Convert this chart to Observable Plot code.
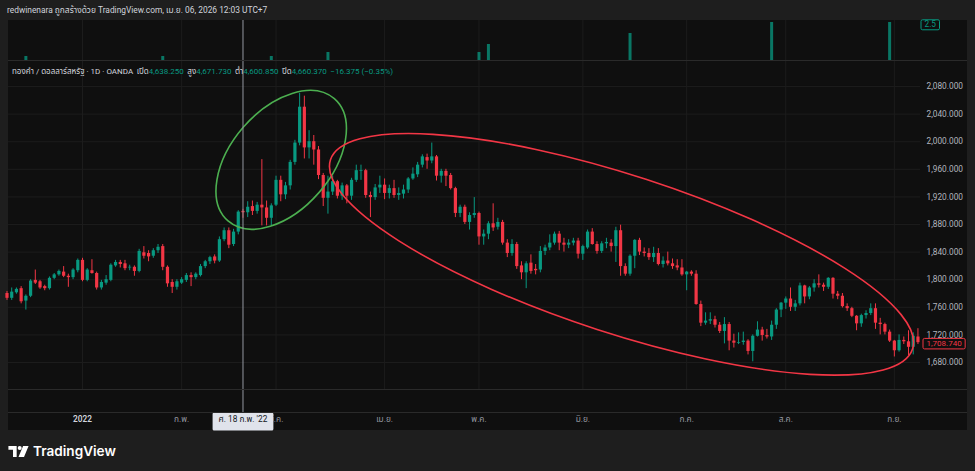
<!DOCTYPE html>
<html><head><meta charset="utf-8">
<script src="https://cdn.jsdelivr.net/npm/d3@7"></script>
<script src="https://cdn.jsdelivr.net/npm/@observablehq/plot@0.6"></script>
<style>
html,body{margin:0;padding:0;}
body{width:975px;height:471px;background:#1e1e1e;position:relative;overflow:hidden;font-family:Roboto,"Noto Sans","Noto Sans Thai",sans-serif;}
#frame{position:absolute;left:8px;top:20px;width:959px;height:410px;background:#0f0f0f;}
.sep{position:absolute;left:8px;width:959px;height:1px;background:#2a2a2a;}
#vol{position:absolute;left:0;top:20px;}
#price{position:absolute;left:0;top:60px;}
#hdr{position:absolute;left:7px;top:0;height:20px;line-height:20px;font-size:8.4px;color:#d1d4dc;white-space:nowrap;}
#legend{position:absolute;left:12px;top:65px;line-height:14px;font-size:8px;color:#d1d4dc;white-space:nowrap;}
#legend .v{color:#089981;}
#legend .g{margin-left:3.5px;}
#logo{position:absolute;left:8px;top:441px;height:20px;display:flex;align-items:center;gap:4px;color:#ffffff;font-size:13.6px;font-weight:600;font-family:Inter,Roboto,sans-serif;}
</style></head>
<body>
<div id="hdr">redwinenara ถูกสร้างด้วย TradingView.com, เม.ย. 06, 2026 12:03 UTC+7</div>
<div id="frame"></div>
<div id="vol"></div>
<div id="price"></div>
<div class="sep" style="top:60px"></div>
<div class="sep" style="top:389px"></div>
<div class="sep" style="top:412px"></div>
<div id="legend">ทองคำ / ดอลลาร์สหรัฐ · 1D · OANDA<span class="g">เปิด</span><span class="v">4,638.250</span><span class="g">สูง</span><span class="v">4,671.730</span><span class="g">ต่ำ</span><span class="v">4,600.850</span><span class="g">ปิด</span><span class="v">4,660.370</span><span class="g v">−16.375 (−0.35%)</span></div>
<div id="logo"><svg width="21" height="11" viewBox="0 0 22 12"><path d="M0 0H9V12H5V4H0Z" fill="#fff"/><circle cx="12.3" cy="2.2" r="2.2" fill="#fff"/><path d="M16 0H22L17 12H11Z" fill="#fff"/></svg><span>TradingView</span></div>
<script>
// ---- data (one entry per daily bar, Dec 2021 – Sep 2022) ----
const open = [1780,1773,1781,1787,1769,1776,1799,1797,1790,1787,1802,1807,1811,1805,1803,1813,
1828,1799,1813,1809,1788,1795,1799,1820,1825,1823,1817,1818,1812,
1839,1838,1834,1842,1848,1818,1796,1789,1795,1799,1806,1803,
1806,1819,1826,1833,1827,1858,1871,1851,1869,1899,1897,1906,1899,1908,1904,1889,
1908,1944,1923,1936,1970,1998,2050,1991,2000,1988,
1951,1918,1927,1942,1921,1936,1921,1944,1957,1958,1922,1919,1933,1937,1925,
1932,1922,1924,1930,1946,1952,1966,1977,1972,1978,1950,1957,1951,1932,1896,1905,1883,1893,
1896,1862,1866,1881,1876,1883,1853,1838,1851,1820,1810,1824,1815,
1814,1841,1846,1853,1866,1853,1850,1853,1856,1837,1846,1869,1851,1841,1852,1853,
1848,1871,1819,1808,1834,1857,1840,1838,1832,1838,1822,1827,1823,1820,1817,1807,1811,
1808,1764,1737,1740,1742,1734,1725,1735,1711,1708,1709,1711,1696,1718,1727,1719,1717,1734,1756,1766,
1772,1760,1765,1791,1775,1788,1794,1792,1789,1802,1779,1776,1761,1758,1747,1736,1748,1751,1758,1737,1735,1724,1711,1697,1712,1710,1702,1717];
const high = [1783,1788,1788,1790,1778,1800,1814,1799,1792,1804,1809,1814,1819,1808,1816,1830,
1831,1816,1829,1811,1799,1806,1823,1828,1828,1828,1821,1820,1844,
1848,1842,1845,1851,1851,1820,1800,1800,1803,1809,1810,1810,
1822,1828,1834,1836,1862,1875,1875,1873,1900,1902,1913,1914,1912,1974,1914,1910,
1950,1950,1941,1973,2002,2070,2066,2016,2009,1993,
1954,1950,1950,1944,1940,1938,1947,1966,1966,1960,1927,1938,1950,1946,1937,
1944,1933,1937,1948,1962,1970,1981,1982,1998,1980,1960,1960,1954,1934,1908,1908,1897,1919,
1898,1872,1884,1910,1889,1886,1858,1858,1854,1826,1826,1836,1822,
1848,1850,1865,1869,1870,1860,1858,1860,1860,1850,1872,1874,1855,1855,1860,1858,
1876,1879,1823,1836,1858,1860,1846,1845,1847,1845,1833,1840,1830,1829,1829,1812,1813,
1813,1769,1752,1752,1747,1738,1745,1738,1721,1723,1724,1713,1720,1739,1731,1728,1740,1758,1767,1775,
1788,1770,1795,1792,1790,1800,1807,1795,1803,1803,1783,1780,1765,1760,1748,1750,1755,1765,1765,1744,1737,1727,1712,1720,1717,1726,1723,1729];
const low = [1770,1770,1779,1765,1756,1774,1793,1786,1784,1785,1800,1805,1803,1789,1800,1810,
1797,1797,1808,1785,1785,1792,1797,1818,1817,1813,1813,1805,1810,
1830,1826,1831,1838,1813,1789,1780,1785,1793,1796,1790,1800,
1804,1816,1822,1823,1825,1855,1845,1848,1865,1889,1890,1893,1895,1878,1878,1878,
1906,1913,1916,1930,1966,1994,1975,1975,1966,1945,
1906,1895,1922,1917,1915,1910,1915,1941,1944,1918,1890,1915,1925,1916,1917,
1918,1915,1917,1925,1944,1948,1962,1960,1968,1943,1940,1935,1930,1890,1890,1880,1872,1889,
1850,1850,1858,1870,1872,1850,1832,1834,1815,1800,1787,1808,1807,
1810,1835,1842,1850,1842,1840,1845,1849,1830,1828,1844,1850,1837,1838,1845,1840,
1825,1805,1805,1805,1816,1835,1833,1828,1825,1820,1817,1820,1815,1813,1805,1784,1805,
1763,1732,1734,1735,1730,1722,1707,1697,1701,1706,1705,1691,1681,1717,1711,1714,1712,1728,1745,1757,
1754,1754,1762,1765,1771,1782,1788,1783,1786,1772,1771,1759,1754,1745,1726,1731,1743,1748,1728,1720,1720,1709,1688,1695,1706,1690,1691,1706];
const close = [1773,1782,1786,1768,1776,1798,1795,1788,1787,1802,1807,1812,1805,1803,1814,1828,
1799,1814,1809,1788,1796,1800,1821,1825,1822,1816,1818,1812,1841,
1834,1833,1842,1847,1818,1794,1789,1797,1800,1806,1803,1808,
1819,1826,1832,1827,1858,1871,1850,1869,1898,1897,1905,1899,1908,1904,1889,1907,
1944,1923,1936,1970,1998,2050,1991,2000,1988,1951,
1918,1927,1942,1921,1936,1921,1944,1958,1958,1922,1919,1933,1937,1925,1932,
1922,1925,1930,1946,1953,1966,1978,1972,1978,1950,1957,1950,1932,1896,1905,1883,1893,1896,
1862,1866,1881,1875,1883,1853,1838,1851,1819,1810,1823,1812,1813,
1841,1846,1853,1866,1853,1850,1853,1856,1837,1848,1869,1851,1841,1852,1854,1848,
1871,1819,1808,1834,1857,1840,1838,1832,1838,1822,1827,1823,1819,1817,1807,1811,1808,
1764,1737,1740,1742,1734,1725,1735,1711,1708,1709,1711,1696,1718,1727,1719,1717,1734,1756,1766,1772,
1760,1765,1791,1775,1788,1794,1792,1789,1802,1779,1776,1761,1758,1747,1736,1748,1751,1758,1737,1735,1724,1711,1697,1712,1710,1702,1718,1708.74];

// volume pane (bar number → value; all other bars are zero)
const volBars = [4, 33, 56, 68, 100, 102, 132, 162, 187];
const volValues = [0.28, 0.28, 0.28, 0.56, 0.56, 1.12, 1.89, 2.66, 2.66];
const volLabelValue = 2.5;

// time axis: bar number where each month starts, and its label
const tickBars = [16, 37, 57, 80, 100, 122, 144, 165, 188];
const tickLabels = ["2022", "ก.พ.", "มี.ค.", "เม.ย.", "พ.ค.", "มิ.ย.", "ก.ค.", "ส.ค.", "ก.ย."];
const priceTicks = [1680, 1720, 1760, 1800, 1840, 1880, 1920, 1960, 2000, 2040, 2080];

// crosshair
const crossBar = 50;
const crossLabel = "ศ. 18 ก.พ. '22";

// visible window (bar numbers at the pane's left and right edges) and price window
const viewBars = [0.32, 193.54];
const viewPrice = [1640.87, 2117.68];

// drawings (centre in bar/price, radii in px, rotation in degrees)
const greenEllipse = {bar: 58.2, price: 1973, rx: 81, ry: 50, angle: -49, color: "#4caf50"};
const redEllipse = {bar: 130.3, price: 1836, rx: 306, ry: 79, angle: 18, color: "#f23645"};

const UP = "#089981", DOWN = "#f23645", GRID = "#1c1c1c";
const FONT = "Roboto, 'Noto Sans', 'Noto Sans Thai', sans-serif";

const bars = open.map((o, i) => ({n: i, o, h: high[i], l: low[i], c: close[i], col: close[i] >= o ? UP : DOWN}));
const ns = "http://www.w3.org/2000/svg";

const ctx2d = document.createElement("canvas").getContext("2d");
function textWidth(s, px) { ctx2d.font = `${px}px ${FONT}`; return ctx2d.measureText(s).width; }

function withBox({fill, stroke, padX, height, px}) {
  return function(index, scales, values, dims, context, next) {
    const g = next(index, scales, values, dims, context);
    for (const t of [...g.querySelectorAll("text")]) {
      const m = /translate\(([-\d.e]+),([-\d.e]+)\)/.exec(t.getAttribute("transform") || "");
      const x = m ? +m[1] : 0, y = m ? +m[2] : 0;
      const w = textWidth(t.textContent, px);
      const anchor = g.getAttribute("text-anchor") || "middle";
      const x0 = anchor === "start" ? x - padX : anchor === "end" ? x - w - padX : x - w / 2 - padX;
      const r = document.createElementNS(ns, "rect");
      r.setAttribute("x", x0); r.setAttribute("y", y - height / 2);
      r.setAttribute("width", w + 2 * padX); r.setAttribute("height", height);
      r.setAttribute("fill", fill); r.setAttribute("stroke", stroke || "none");
      r.setAttribute("rx", 1.5);
      g.insertBefore(r, t);
    }
    return g;
  };
}

function ellipseMark(e) {
  return (index, scales) => {
    const cx = scales.x(e.bar), cy = scales.y(e.price);
    const el = document.createElementNS(ns, "ellipse");
    el.setAttribute("cx", cx); el.setAttribute("cy", cy);
    el.setAttribute("rx", e.rx); el.setAttribute("ry", e.ry);
    el.setAttribute("transform", `rotate(${e.angle} ${cx} ${cy})`);
    el.setAttribute("fill", "none"); el.setAttribute("stroke", e.color);
    el.setAttribute("stroke-width", 1.6);
    return el;
  };
}

const common = {
  width: 975, marginLeft: 8, marginRight: 55,
  style: {background: "transparent", fontFamily: FONT, fontSize: "8.3px", color: "#b2b5be", overflow: "visible"}
};

// volume pane
const vol = Plot.plot({
  ...common, height: 40, marginTop: 0, marginBottom: 0,
  x: {type: "linear", domain: viewBars, axis: null},
  y: {domain: [0, 2.8], axis: null},
  marks: [
    Plot.ruleX(tickBars, {stroke: GRID}),
    Plot.ruleX(volBars, {x: d => d, y1: 0, y2: (d, i) => volValues[i], stroke: UP, strokeOpacity: 0.75, strokeWidth: 3}),
    Plot.ruleX([crossBar], {stroke: "#9598a1"}),
    Plot.text([volLabelValue], {y: d => d, frameAnchor: "right", dx: 4, textAnchor: "start", text: d => d3.format(".1f")(d), fill: UP, fontSize: 8.3,
      render: withBox({fill: "#0f0f0f", stroke: UP, padX: 3.5, height: 10, px: 8.3})})
  ]
});
document.getElementById("vol").appendChild(vol);

const ticks = tickBars.map((n, i) => ({n, label: tickLabels[i]}));

// price pane + time axis
const price = Plot.plot({
  ...common, height: 370, marginTop: 0, marginBottom: 41,
  x: {type: "linear", domain: viewBars, axis: null},
  y: {domain: viewPrice, axis: null},
  marks: [
    Plot.ruleY(priceTicks, {stroke: GRID}),
    Plot.ruleX(tickBars, {stroke: GRID}),
    Plot.ruleX(bars, {x: "n", y1: "l", y2: "h", stroke: "col", strokeWidth: 1}),
    Plot.ruleX(bars, {x: "n", y1: "o", y2: "c", stroke: "col", strokeWidth: 3.2}),
    ellipseMark(greenEllipse),
    ellipseMark(redEllipse),
    Plot.ruleX([crossBar], {stroke: "#9598a1", insetBottom: -23}),
    Plot.axisY(priceTicks, {anchor: "right", tickSize: 0, tickPadding: 6, tickFormat: d3.format(",.3f"), fill: "#b2b5be", color: "#b2b5be", fontSize: 8.3, label: null}),
    Plot.text(ticks.filter(t => t.n === tickBars[0]), {x: "n", text: "label", frameAnchor: "bottom", dy: 32.7, fill: "#d1d4dc", fontSize: 8.3, fontWeight: 600}),
    Plot.text(ticks.filter(t => t.n !== tickBars[0]), {x: "n", text: "label", frameAnchor: "bottom", dy: 32.7, fill: "#9598a1", fontSize: 8.3}),
    Plot.text([close[close.length - 1]], {y: d => d, frameAnchor: "right", dx: 6, dy: 1, textAnchor: "start", text: d => d3.format(",.3f")(d), fill: DOWN, fontSize: 8,
      render: withBox({fill: "#0f0f0f", stroke: DOWN, padX: 3.5, height: 10.5, px: 8})}),
    Plot.text([crossLabel], {x: () => crossBar, frameAnchor: "bottom", dy: 32, text: d => d, fill: "#131722", fontSize: 8.3,
      render: withBox({fill: "#e0e3eb", stroke: "none", padX: 6, height: 18, px: 8.3})})
  ]
});
document.getElementById("price").appendChild(price);
</script>
</body></html>
